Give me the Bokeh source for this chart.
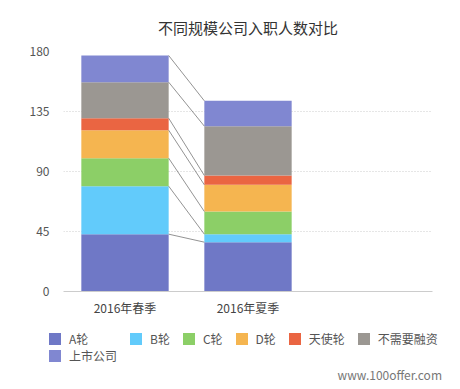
from bokeh.plotting import figure
from bokeh.layouts import column
from bokeh.models import Range1d, FixedTicker, Div, ColumnDataSource
from bokeh.embed import file_html
from bokeh.resources import INLINE

seasons = ["2016年春季", "2016年夏季"]
series = ["A轮", "B轮", "C轮", "D轮", "天使轮", "不需要融资", "上市公司"]
a_round = [43, 37]
b_round = [36, 6]
c_round = [21, 17]
d_round = [21, 20]
angel = [9, 7]
no_funding = [27, 37]
listed = [20, 19]
colors = ["#6f78c6", "#62cbfb", "#8ccf67", "#f5b550", "#ea6542", "#9b9792", "#8087d1"]
y_ticks = [0, 45, 90, 135, 180]
watermark = "www.100offer.com"

FONT = "Noto Sans CJK SC"
xpos = [0.5, 1.5]
bw = 0.71

data = {"x": xpos}
vals = [a_round, b_round, c_round, d_round, angel, no_funding, listed]
for name, v in zip(series, vals):
    data[name] = v
src = ColumnDataSource(data)

p = figure(frame_width=369, frame_height=240, min_border_left=63, min_border_right=27,
           min_border_top=51, min_border_bottom=29, output_backend="svg",
           toolbar_location=None, x_range=Range1d(0, 3), y_range=Range1d(0, 180),
           title="不同规模公司入职人数对比")
p.outline_line_color = None
p.title.align = "center"
p.title.text_font = FONT
p.title.text_font_size = "15px"
p.title.text_font_style = "normal"
p.title.text_color = "#333333"
p.title.standoff = 28

p.vbar_stack(series, x="x", width=bw, source=src, color=colors, line_color=None)

# connector lines between stacked segment tops
cum1, cum2 = [], []
s1 = s2 = 0
for v in vals:
    s1 += v[0]
    s2 += v[1]
    cum1.append(s1)
    cum2.append(s2)
p.segment(x0=[xpos[0] + bw / 2] * len(cum1), y0=cum1, x1=[xpos[1] - bw / 2] * len(cum2), y1=cum2,
          line_color="#777777", line_width=0.8)

p.yaxis.ticker = FixedTicker(ticks=y_ticks)
p.yaxis.axis_line_color = None
p.yaxis.major_tick_line_color = None
p.yaxis.major_tick_out = 0
p.yaxis.minor_tick_line_color = None
p.yaxis.minor_tick_out = 0
p.yaxis.major_label_standoff = 14
p.yaxis.major_label_text_font = FONT
p.yaxis.major_label_text_font_size = "12px"
p.yaxis.major_label_text_color = "#555555"

p.xaxis.ticker = FixedTicker(ticks=xpos)
p.xaxis.major_label_overrides = {0.5: seasons[0], 1.5: seasons[1]}
p.xaxis.axis_line_color = "#cccccc"
p.xaxis.major_tick_line_color = None
p.xaxis.major_tick_out = 0
p.xaxis.minor_tick_line_color = None
p.xaxis.minor_tick_out = 0
p.xaxis.major_label_standoff = 7
p.xaxis.major_label_text_font = FONT
p.xaxis.major_label_text_font_size = "12px"
p.xaxis.major_label_text_color = "#444444"

p.xgrid.grid_line_color = None
p.ygrid.grid_line_color = "#cccccc"
p.ygrid.grid_line_dash = "1 2"

# legend + footer as an HTML block
cells = "".join(
    f'<div style="display:flex;align-items:center;height:12px;white-space:nowrap;">'
    f'<span style="display:inline-block;width:12px;height:12px;background:{c};margin-right:8px;"></span>'
    f'<span style="font:12px \'{FONT}\';line-height:12px;color:#555555;">{n}</span></div>'
    for n, c in zip(series, colors))
html = (
    f'<div style="position:relative;width:459px;height:68px;margin:0;padding:0;">'
    f'<div style="position:absolute;left:49px;top:13px;display:grid;'
    f'grid-template-columns:repeat(6,auto);column-gap:13px;row-gap:5px;">{cells}</div>'
    f'<div style="position:absolute;right:17px;top:48px;font:12px \'{FONT}\';line-height:14px;'
    f'color:#777777;">{watermark}</div></div>'
)
footer = Div(text=html, width=459, height=68, margin=0)

open("out.html", "w").write(file_html(column(p, footer, spacing=0), INLINE))
